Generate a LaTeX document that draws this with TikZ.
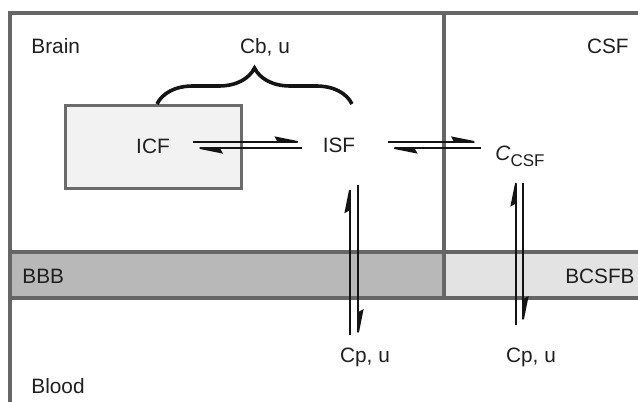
\documentclass[tikz,border=0pt]{standalone}
\usepackage{fontspec}
\setmainfont{Liberation Sans}
\usetikzlibrary{arrows.meta,calc,decorations.pathreplacing}
\begin{document}
\begin{tikzpicture}[x=0.5pt,y=-0.5pt,font=\fontsize{10.4}{12.5}\selectfont]
    \tikzset{
        wall/.style={draw=black!60, line width=1.6pt},
        lbl/.style={inner sep=0pt, text=black!88},
        flux/.style={draw=black!92, line width=0.95pt,
            -{Stealth[left,length=14pt,width=5.5pt,inset=1.5pt]}},
        cellbox/.style={draw=black!58, line width=1.5pt, fill=black!5,
            minimum width=88pt, minimum height=41.5pt, inner sep=0pt, text=black!88},
        curly/.style={draw=black!92, line width=1.8pt, decorate,
            decoration={brace,amplitude=18pt}}
    }
    \useasboundingbox (0,0) rectangle (638,402);

    \fill[black!28] (10,252) rectangle (444,298);
    \fill[black!11] (444,252) rectangle (640,298);

    \draw[wall] (10,404) -- (10,13) -- (640,13);
    \draw[wall] (444,13) -- (444,298);
    \draw[wall] (10,252) -- (640,252);
    \draw[wall] (10,298) -- (640,298);

    \node[cellbox] (icf) at (153,146.5) {ICF};
    \node[lbl] (isf) at (339,145) {ISF};
    \node[lbl, anchor=base west] (csf) at (495,160)
        {\textit{C}\raisebox{-3pt}{\fontsize{8.5}{10}\selectfont CSF}};

    \node[lbl, anchor=base west] (brain) at (31,53) {Brain};
    \node[lbl, anchor=base] (cbu) at (265,53) {Cb, u};
    \node[lbl, anchor=base east] (csfroom) at (629,53) {CSF};
    \node[lbl, anchor=base west] (bbb) at (22,283) {BBB};
    \node[lbl, anchor=base east] (bcsfb) at (635,283) {BCSFB};
    \node[lbl, anchor=base west] (blood) at (31,393) {Blood};
    \node[lbl, anchor=base] (cpisf) at (365,362) {Cp, u};
    \node[lbl, anchor=base] (cpcsf) at (531,362) {Cp, u};

    \draw[curly] (157,104) -- (352,104);

    \draw[flux] ($(icf.center |- isf.center)+(40,-3)$) -- ($(isf.west)+(-15,-3)$);
    \draw[flux] ($(isf.west)+(-20,3)$) -- ($(icf.center |- isf.center)+(37,3)$);
    \draw[flux] ($(isf.east)+(32,-3)$) -- ($(csf.west |- isf.center)+(-11,-3)$);
    \draw[flux] ($(csf.west |- isf.center)+(-14,3)$) -- ($(isf.east)+(29,3)$);

    \draw[flux] ($(cpisf.north)+(-15,-12)$) -- ($(cpisf.north |- isf.south)+(-15,27.5)$);
    \draw[flux] ($(cpisf.north |- isf.south)+(-7,32.5)$) -- ($(cpisf.north)+(-7,-5)$);
    \draw[flux] ($(cpcsf.north)+(-15,-22)$) -- ($(cpcsf.north |- csf.south)+(-15,7)$);
    \draw[flux] ($(cpcsf.north |- csf.south)+(-8,16)$) -- ($(cpcsf.north)+(-8,-18)$);
\end{tikzpicture}
\end{document}
